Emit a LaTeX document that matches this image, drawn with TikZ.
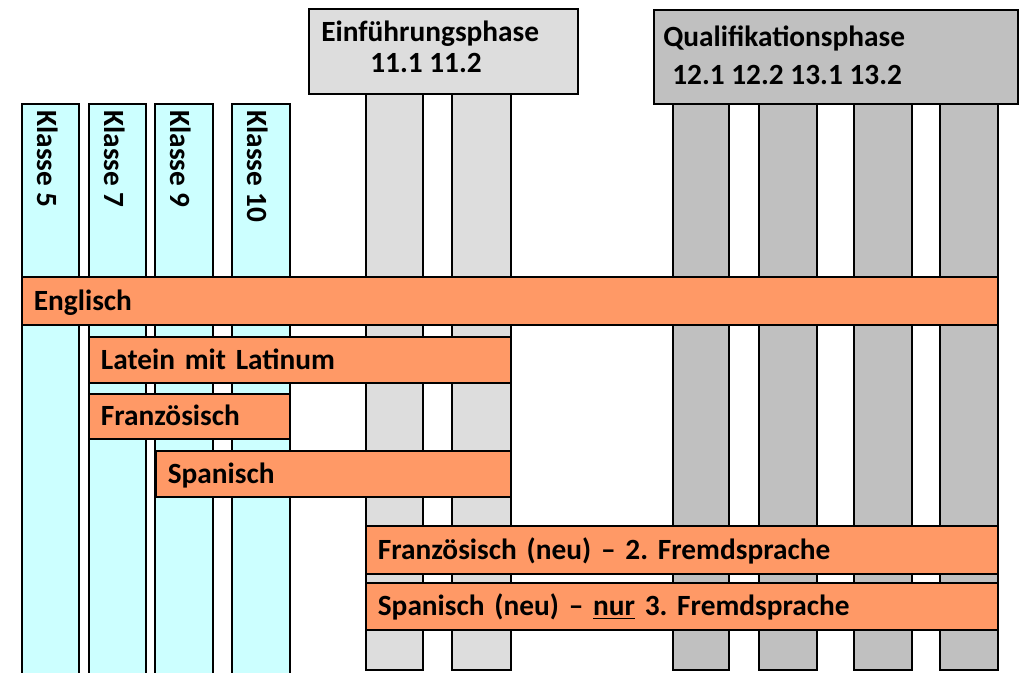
\documentclass[tikz,border=0pt]{standalone}
\usepackage{fontspec}
\setmainfont{Carlito}
\frenchspacing
\definecolor{klasse}{HTML}{CCFFFF}
\definecolor{fach}{HTML}{FF9966}
\definecolor{einf}{HTML}{DDDDDD}
\definecolor{quali}{HTML}{C0C0C0}
\begin{document}
\frenchspacing
\begin{tikzpicture}[x=0.75pt,y=-0.75pt,
  lbl/.style={font=\bfseries\fontsize{22}{26}\selectfont, inner sep=0pt},
  col/.style={draw=black, line width=1.3pt, anchor=north west, inner sep=0pt},
  kcol/.style={col, fill=klasse},
  ecol/.style={col, fill=einf},
  qcol/.style={col, fill=quali},
  fachbar/.style={draw=black, line width=1.3pt, fill=fach, anchor=north west,
    font=\bfseries\fontsize{22}{26}\selectfont\frenchspacing, inner xsep=12*0.75pt, inner ysep=0pt,
    text height=14.2pt, text depth=0pt, align=left},
  ktext/.style={lbl, rotate=-90, anchor=west},
]
\clip (0,0) rectangle (1023,672);
\fill[white] (0,0) rectangle (1023,672);

% Klasse columns
\node[kcol, minimum width=57*0.75pt, minimum height=600*0.75pt] (k5) at (21,103) {};
\node[kcol, minimum width=57*0.75pt, minimum height=600*0.75pt] (k7) at (88,103) {};
\node[kcol, minimum width=58*0.75pt, minimum height=600*0.75pt] (k9) at (154,103) {};
\node[kcol, minimum width=58*0.75pt, minimum height=600*0.75pt] (k10) at (231,103) {};
\node[ktext] (t5) at (47.5,110) {Klasse 5};
\node[ktext] (t7) at (114.5,110) {Klasse 7};
\node[ktext] (t9) at (181,110) {Klasse 9};
\node[ktext] (t10) at (258,110) {Klasse 10};

% Einfuehrungsphase columns
\node[ecol, minimum width=57*0.75pt, minimum height=576*0.75pt] (e1) at (365,93) {};
\node[ecol, minimum width=59*0.75pt, minimum height=576*0.75pt] (e2) at (451,93) {};

% Qualifikationsphase columns
\node[qcol, minimum width=56*0.75pt, minimum height=566*0.75pt] (q1) at (672,103) {};
\node[qcol, minimum width=58*0.75pt, minimum height=566*0.75pt] (q2) at (758,103) {};
\node[qcol, minimum width=58*0.75pt, minimum height=566*0.75pt] (q3) at (853,103) {};
\node[qcol, minimum width=58*0.75pt, minimum height=566*0.75pt] (q4) at (939,103) {};

% header boxes
\node[col, fill=einf, minimum width=269*0.75pt, minimum height=85*0.75pt] (ebox) at (308,8) {};
\node[lbl, anchor=base west] (etitle) at (321,41) {Einführungsphase};
\node[lbl, anchor=base west] (esem) at (370,72) {11.1 11.2};
\node[col, fill=quali, minimum width=364*0.75pt, minimum height=94*0.75pt] (qbox) at (653,9) {};
\node[lbl, anchor=base west] (qtitle) at (663,46) {Qualifikationsphase};
\node[lbl, anchor=base west] (qsem) at (672,84) {12.1 12.2 13.1 13.2};

% language bars
\node[fachbar, minimum width=976*0.75pt, minimum height=48*0.75pt, text width=952*0.75pt] (engl) at (21,276) {Englisch};
\node[fachbar, minimum width=422*0.75pt, minimum height=46*0.75pt, text width=398*0.75pt] (latein) at (88,336) {Latein mit Latinum};
\node[fachbar, minimum width=201*0.75pt, minimum height=45*0.75pt, text width=177*0.75pt] (franz) at (88,393) {Französisch};
\node[fachbar, minimum width=355*0.75pt, minimum height=46*0.75pt, text width=331*0.75pt] (span) at (155,450) {Spanisch};
\node[fachbar, minimum width=632*0.75pt, minimum height=48*0.75pt, text width=608*0.75pt] (franzneu) at (365,525) {Französisch (neu) – 2. Fremdsprache};
\node[fachbar, minimum width=632*0.75pt, minimum height=47*0.75pt, text width=608*0.75pt] (spanneu) at (365,582) {Spanisch (neu) – \underline{nur} 3. Fremdsprache};
\end{tikzpicture}
\end{document}
